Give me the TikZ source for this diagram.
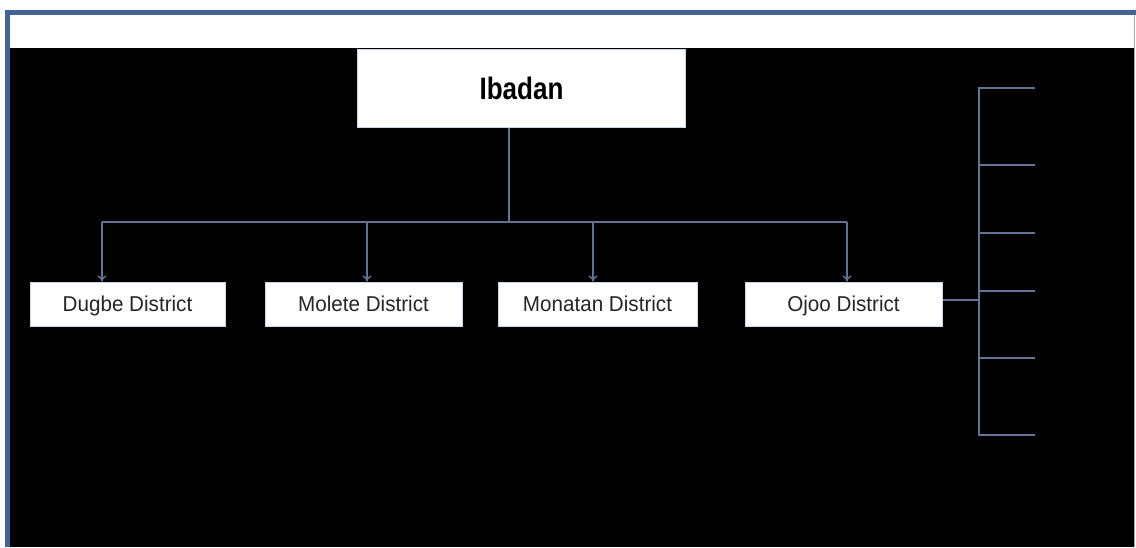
\documentclass[tikz,border=0pt]{standalone}
\usepackage{fontspec}
\setmainfont{Liberation Sans}
\usetikzlibrary{arrows.meta}
\definecolor{frameblue}{RGB}{66,100,148}
\definecolor{linkgray}{RGB}{98,116,146}
\definecolor{boxedge}{RGB}{200,215,235}
\begin{document}
\begin{tikzpicture}[x=1pt,y=-1pt,
  headbox/.style={draw=boxedge,line width=1pt,fill=white,rectangle,inner sep=0pt,
    minimum width=328pt,minimum height=78pt,text height=22pt,text depth=0pt,
    font=\fontsize{31}{34}\selectfont\bfseries},
  distbox/.style={draw=boxedge,line width=1pt,fill=white,rectangle,inner sep=0pt,
    minimum height=44pt,text height=15.5pt,text depth=0pt,
    font=\fontsize{21.5}{24}\selectfont,text=black!85},
  link/.style={draw=linkgray,line width=1.4pt},
  arrowlink/.style={link,-{To[length=6pt,width=9pt]}}]
\useasboundingbox (0,0) rectangle (1136,547);
% page frame: white band over a black panel
\fill[white] (0,0) rectangle (1136,547);
\fill[black] (10,48) rectangle (1134,547);
\fill[frameblue] (5,10) rectangle (10,547);
\fill[frameblue] (5,10) rectangle (1136,15);
\draw[gray!70,line width=1pt] (1134.5,15) -- (1134.5,547);
% city and districts
\node[headbox] (ibadan) at (521.5,88) {\scalebox{0.84}[1]{Ibadan}};
\node[distbox,minimum width=195pt] (dugbe) at (127.5,304) {\scalebox{0.96}[1]{Dugbe District}};
\node[distbox,minimum width=197pt] (molete) at (363.5,304) {\scalebox{0.96}[1]{Molete District}};
\node[distbox,minimum width=199pt] (monatan) at (597.5,304) {\scalebox{0.96}[1]{Monatan District}};
\node[distbox,minimum width=197pt] (ojoo) at (843.5,304) {\scalebox{0.96}[1]{Ojoo District}};
% distribution bus
\coordinate (bus) at (509,222);
\coordinate (b1) at (102,222);
\coordinate (b2) at (367,222);
\coordinate (b3) at (593,222);
\coordinate (b4) at (847,222);
\draw[link] (ibadan.south -| bus) -- (bus);
\draw[link] (b1) -- (b4);
\draw[arrowlink] (b1) -- (b1 |- dugbe.north);
\draw[arrowlink] (b2) -- (b2 |- molete.north);
\draw[arrowlink] (b3) -- (b3 |- monatan.north);
\draw[arrowlink] (b4) -- (b4 |- ojoo.north);
% branch bracket to the right of Ojoo
\coordinate (s1) at (979,88);
\coordinate (s6) at (979,435);
\coordinate (t1) at (1035,88);
\coordinate (t2) at (1035,165);
\coordinate (t3) at (1035,233);
\coordinate (t4) at (1035,291);
\coordinate (t5) at (1035,358);
\coordinate (t6) at (1035,435);
\draw[link] ([yshift=4pt]ojoo.east) -- ([yshift=4pt]ojoo.east -| s1);
\draw[link] (t1) -- (s1) -- (s6) -- (t6);
\foreach \t in {t2,t3,t4,t5}
  \draw[link] (\t -| s1) -- (\t);
\end{tikzpicture}
\end{document}
